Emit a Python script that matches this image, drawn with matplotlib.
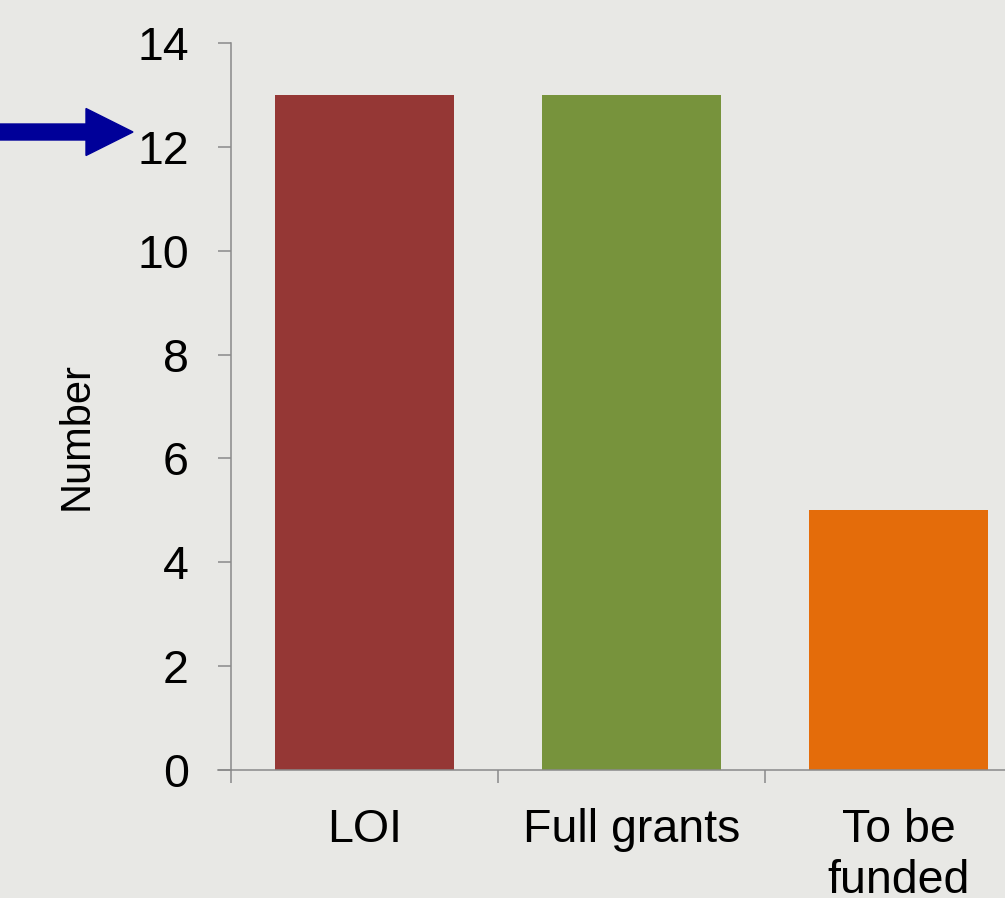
import matplotlib
matplotlib.use("Agg")
import matplotlib.pyplot as plt
from matplotlib.patches import FancyArrow

categories = ["LOI", "Full grants", "To be\nfunded"]
values = [13, 13, 5]
colors = ["#953735", "#77933C", "#E46C0A"]
yticks = [0, 2, 4, 6, 8, 10, 12, 14]

plt.rcParams['font.family'] = ['Liberation Sans', 'DejaVu Sans']

W, H = 1005, 898
fig = plt.figure(figsize=(W / 100, H / 100), dpi=100)
bg = "#e8e8e5"
fig.patch.set_facecolor(bg)

ax = fig.add_axes([231 / W, 1 - 770 / H, 801 / W, 727 / H])
ax.set_facecolor("none")
x = list(range(len(categories)))
ax.bar(x, values, width=0.667, color=colors, zorder=2)
ax.set_xlim(-0.5, 2.5)
ax.set_ylim(0, 14)
ax.set_yticks(yticks)
ax.set_yticklabels([str(v) for v in yticks])
ax.set_xticks([-0.5, 0.5, 1.5, 2.5])
ax.set_xticklabels([])
ax.set_xticks(x, minor=True)
ax.set_xticklabels(categories, minor=True)

spine_col = "#8a8a8a"
for s in ["top", "right"]:
    ax.spines[s].set_visible(False)
for s in ["left", "bottom"]:
    ax.spines[s].set_color(spine_col)
    ax.spines[s].set_linewidth(1.1)

ax.tick_params(axis='y', which='major', direction='out', length=9.4, width=1.1,
               color=spine_col, labelsize=33.5, pad=21, labelcolor='black')
ax.tick_params(axis='x', which='major', direction='out', length=9.4, width=1.1,
               color=spine_col)
ax.tick_params(axis='x', which='minor', length=0, labelsize=33.5, pad=27,
               labelcolor='black')
for lab in ax.get_xticklabels(minor=True):
    lab.set_linespacing(1.22)

# extend x axis line left under the zero tick
ax.plot([-0.5 - 13 / 267, -0.5], [0, 0], color=spine_col, lw=1.1,
        clip_on=False, zorder=3)

fig.text(77 / W, 1 - 436 / H, "Number", rotation=90, ha='center', va='center',
         fontsize=30)

# blue arrow (figure inches)
y_in = (H - 132) / 100
arrow = FancyArrow(0, y_in, 1.33, 0, width=0.16, head_width=0.47,
                   head_length=0.47, length_includes_head=True,
                   color="#000099", transform=fig.dpi_scale_trans)
fig.patches.append(arrow)

fig.savefig("out.png", dpi=100, facecolor=bg)
